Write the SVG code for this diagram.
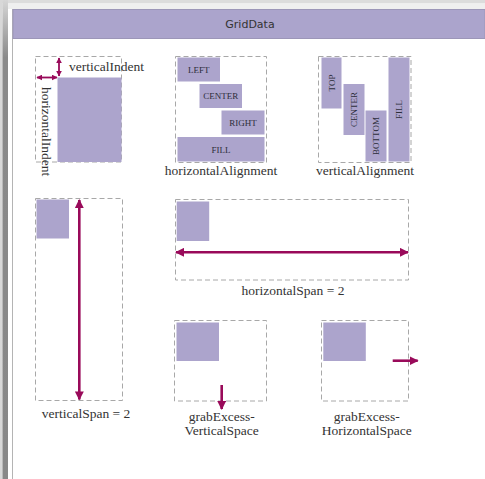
<svg xmlns="http://www.w3.org/2000/svg" width="485" height="479" viewBox="0 0 485 479">
  <style>
    .dash { fill: none; stroke: #a8a8a8; stroke-width: 1; stroke-dasharray: 5 3; }
    .cell { fill: #aca4cc; }
    .lbl { font-family: "Liberation Serif", "DejaVu Serif", serif; font-size: 13.5px; fill: #333; }
    .sm { font-family: "Liberation Serif", "DejaVu Serif", serif; font-size: 9px; fill: #2d2d3a; }
    .arr { stroke: #990a5a; stroke-width: 2.6; fill: none; }
    .arrs { stroke: #990a5a; stroke-width: 1.8; fill: none; }
  </style>
  <defs>
    <linearGradient id="side" x1="0" y1="0" x2="0" y2="1">
      <stop offset="0" stop-color="#d6d6d6"/>
      <stop offset="0.12" stop-color="#8a8a8a"/>
      <stop offset="1" stop-color="#888888"/>
    </linearGradient>
    <marker id="ah" viewBox="0 0 10 10" refX="9" refY="5" markerWidth="9" markerHeight="9" markerUnits="userSpaceOnUse" orient="auto-start-reverse">
      <path d="M0,0 L10,5 L0,10 z" fill="#990a5a"/>
    </marker>
    <marker id="ahs" viewBox="0 0 10 10" refX="9" refY="5" markerWidth="6" markerHeight="6" markerUnits="userSpaceOnUse" orient="auto-start-reverse">
      <path d="M0,0 L10,5 L0,10 z" fill="#990a5a"/>
    </marker>
  </defs>

  <!-- window chrome -->
  <rect x="0" y="0" width="485" height="479" fill="#ffffff"/>
  <rect x="0" y="0" width="485" height="3.5" fill="#dcdcdc"/>
  <rect x="0" y="3.5" width="485" height="5.5" fill="#efefef"/>
  <rect x="0" y="0" width="2.5" height="479" fill="#d8d8d8"/>
  <rect x="2.5" y="0" width="5.5" height="479" fill="url(#side)"/>
  <rect x="8" y="9" width="4" height="470" fill="#ffffff"/>
  <line x1="12.5" y1="9" x2="12.5" y2="479" stroke="#b4b4b4" stroke-width="1"/>

  <g id="header">
    <rect x="13" y="9.5" width="472" height="29" fill="#aba4cc" stroke="#9c96b8" stroke-width="1"/>
    <text x="250" y="28" text-anchor="middle" font-family="DejaVu Sans, Verdana, sans-serif" font-size="11" fill="#333">GridData</text>
  </g>

  <g id="indent">
    <rect class="dash" x="35.5" y="56.5" width="86" height="105.5"/>
    <rect class="cell" x="57.5" y="77.5" width="64" height="84.5"/>
    <line class="arrs" x1="59" y1="58" x2="59" y2="76" marker-start="url(#ahs)" marker-end="url(#ahs)"/>
    <line class="arrs" x1="37" y1="77.5" x2="57" y2="77.5" marker-start="url(#ahs)" marker-end="url(#ahs)"/>
    <text class="lbl" x="69" y="71">verticalIndent</text>
    <text class="lbl" transform="translate(42,87) rotate(90)">horizontalIndent</text>
  </g>

  <g id="horizontalAlignment">
    <rect class="dash" x="175.5" y="56.5" width="91" height="106"/>
    <rect class="cell" x="177.5" y="57.5" width="42.5" height="24"/>
    <rect class="cell" x="199.5" y="84" width="42.5" height="24"/>
    <rect class="cell" x="221.5" y="110.5" width="43" height="24"/>
    <rect class="cell" x="177.5" y="137" width="87" height="24.5"/>
    <text class="sm" x="198.7" y="72.8" text-anchor="middle">LEFT</text>
    <text class="sm" x="220.7" y="99.3" text-anchor="middle">CENTER</text>
    <text class="sm" x="243" y="125.8" text-anchor="middle">RIGHT</text>
    <text class="sm" x="221" y="152.5" text-anchor="middle">FILL</text>
    <text class="lbl" x="221" y="175" text-anchor="middle">horizontalAlignment</text>
  </g>

  <g id="verticalAlignment">
    <rect class="dash" x="318.5" y="56.5" width="92.5" height="106"/>
    <rect class="cell" x="321.5" y="57.5" width="20" height="51"/>
    <rect class="cell" x="343.5" y="84" width="21" height="51"/>
    <rect class="cell" x="365.5" y="110.5" width="21" height="51"/>
    <rect class="cell" x="388.5" y="57.5" width="21" height="104"/>
    <text class="sm" text-anchor="middle" transform="translate(334.5,83) rotate(-90)">TOP</text>
    <text class="sm" text-anchor="middle" transform="translate(357,109.5) rotate(-90)">CENTER</text>
    <text class="sm" text-anchor="middle" transform="translate(379,136) rotate(-90)">BOTTOM</text>
    <text class="sm" text-anchor="middle" transform="translate(402,109.5) rotate(-90)">FILL</text>
    <text class="lbl" x="365" y="175" text-anchor="middle">verticalAlignment</text>
  </g>

  <g id="verticalSpan">
    <rect class="dash" x="35.5" y="198.5" width="87" height="202"/>
    <rect class="cell" x="36.5" y="199.5" width="32.5" height="39"/>
    <line class="arr" x1="79.3" y1="200" x2="79.3" y2="399.5" marker-start="url(#ah)" marker-end="url(#ah)"/>
    <text class="lbl" x="86" y="418" text-anchor="middle">verticalSpan = 2</text>
  </g>

  <g id="horizontalSpan">
    <rect class="dash" x="175.5" y="199.5" width="233" height="80.5"/>
    <rect class="cell" x="176.7" y="201.5" width="32.5" height="39.5"/>
    <line class="arr" x1="176" y1="252.3" x2="408" y2="252.3" marker-start="url(#ah)" marker-end="url(#ah)"/>
    <text class="lbl" x="293" y="295" text-anchor="middle">horizontalSpan = 2</text>
  </g>

  <g id="grabExcessVerticalSpace">
    <rect class="dash" x="174.5" y="320.5" width="92" height="80.5"/>
    <rect class="cell" x="176.5" y="322.5" width="42.5" height="38.5"/>
    <line class="arr" x1="221.7" y1="385" x2="221.7" y2="409" marker-end="url(#ah)"/>
    <text class="lbl" x="221.7" y="421" text-anchor="middle">grabExcess-</text>
    <text class="lbl" x="221.7" y="435" text-anchor="middle">VerticalSpace</text>
  </g>

  <g id="grabExcessHorizontalSpace">
    <rect class="dash" x="321.5" y="320.5" width="87" height="80.5"/>
    <rect class="cell" x="323.3" y="322.5" width="42.5" height="38.5"/>
    <line class="arr" x1="392.7" y1="360.7" x2="417.7" y2="360.7" marker-end="url(#ah)"/>
    <text class="lbl" x="366.7" y="421" text-anchor="middle">grabExcess-</text>
    <text class="lbl" x="366.7" y="435" text-anchor="middle">HorizontalSpace</text>
  </g>
</svg>
